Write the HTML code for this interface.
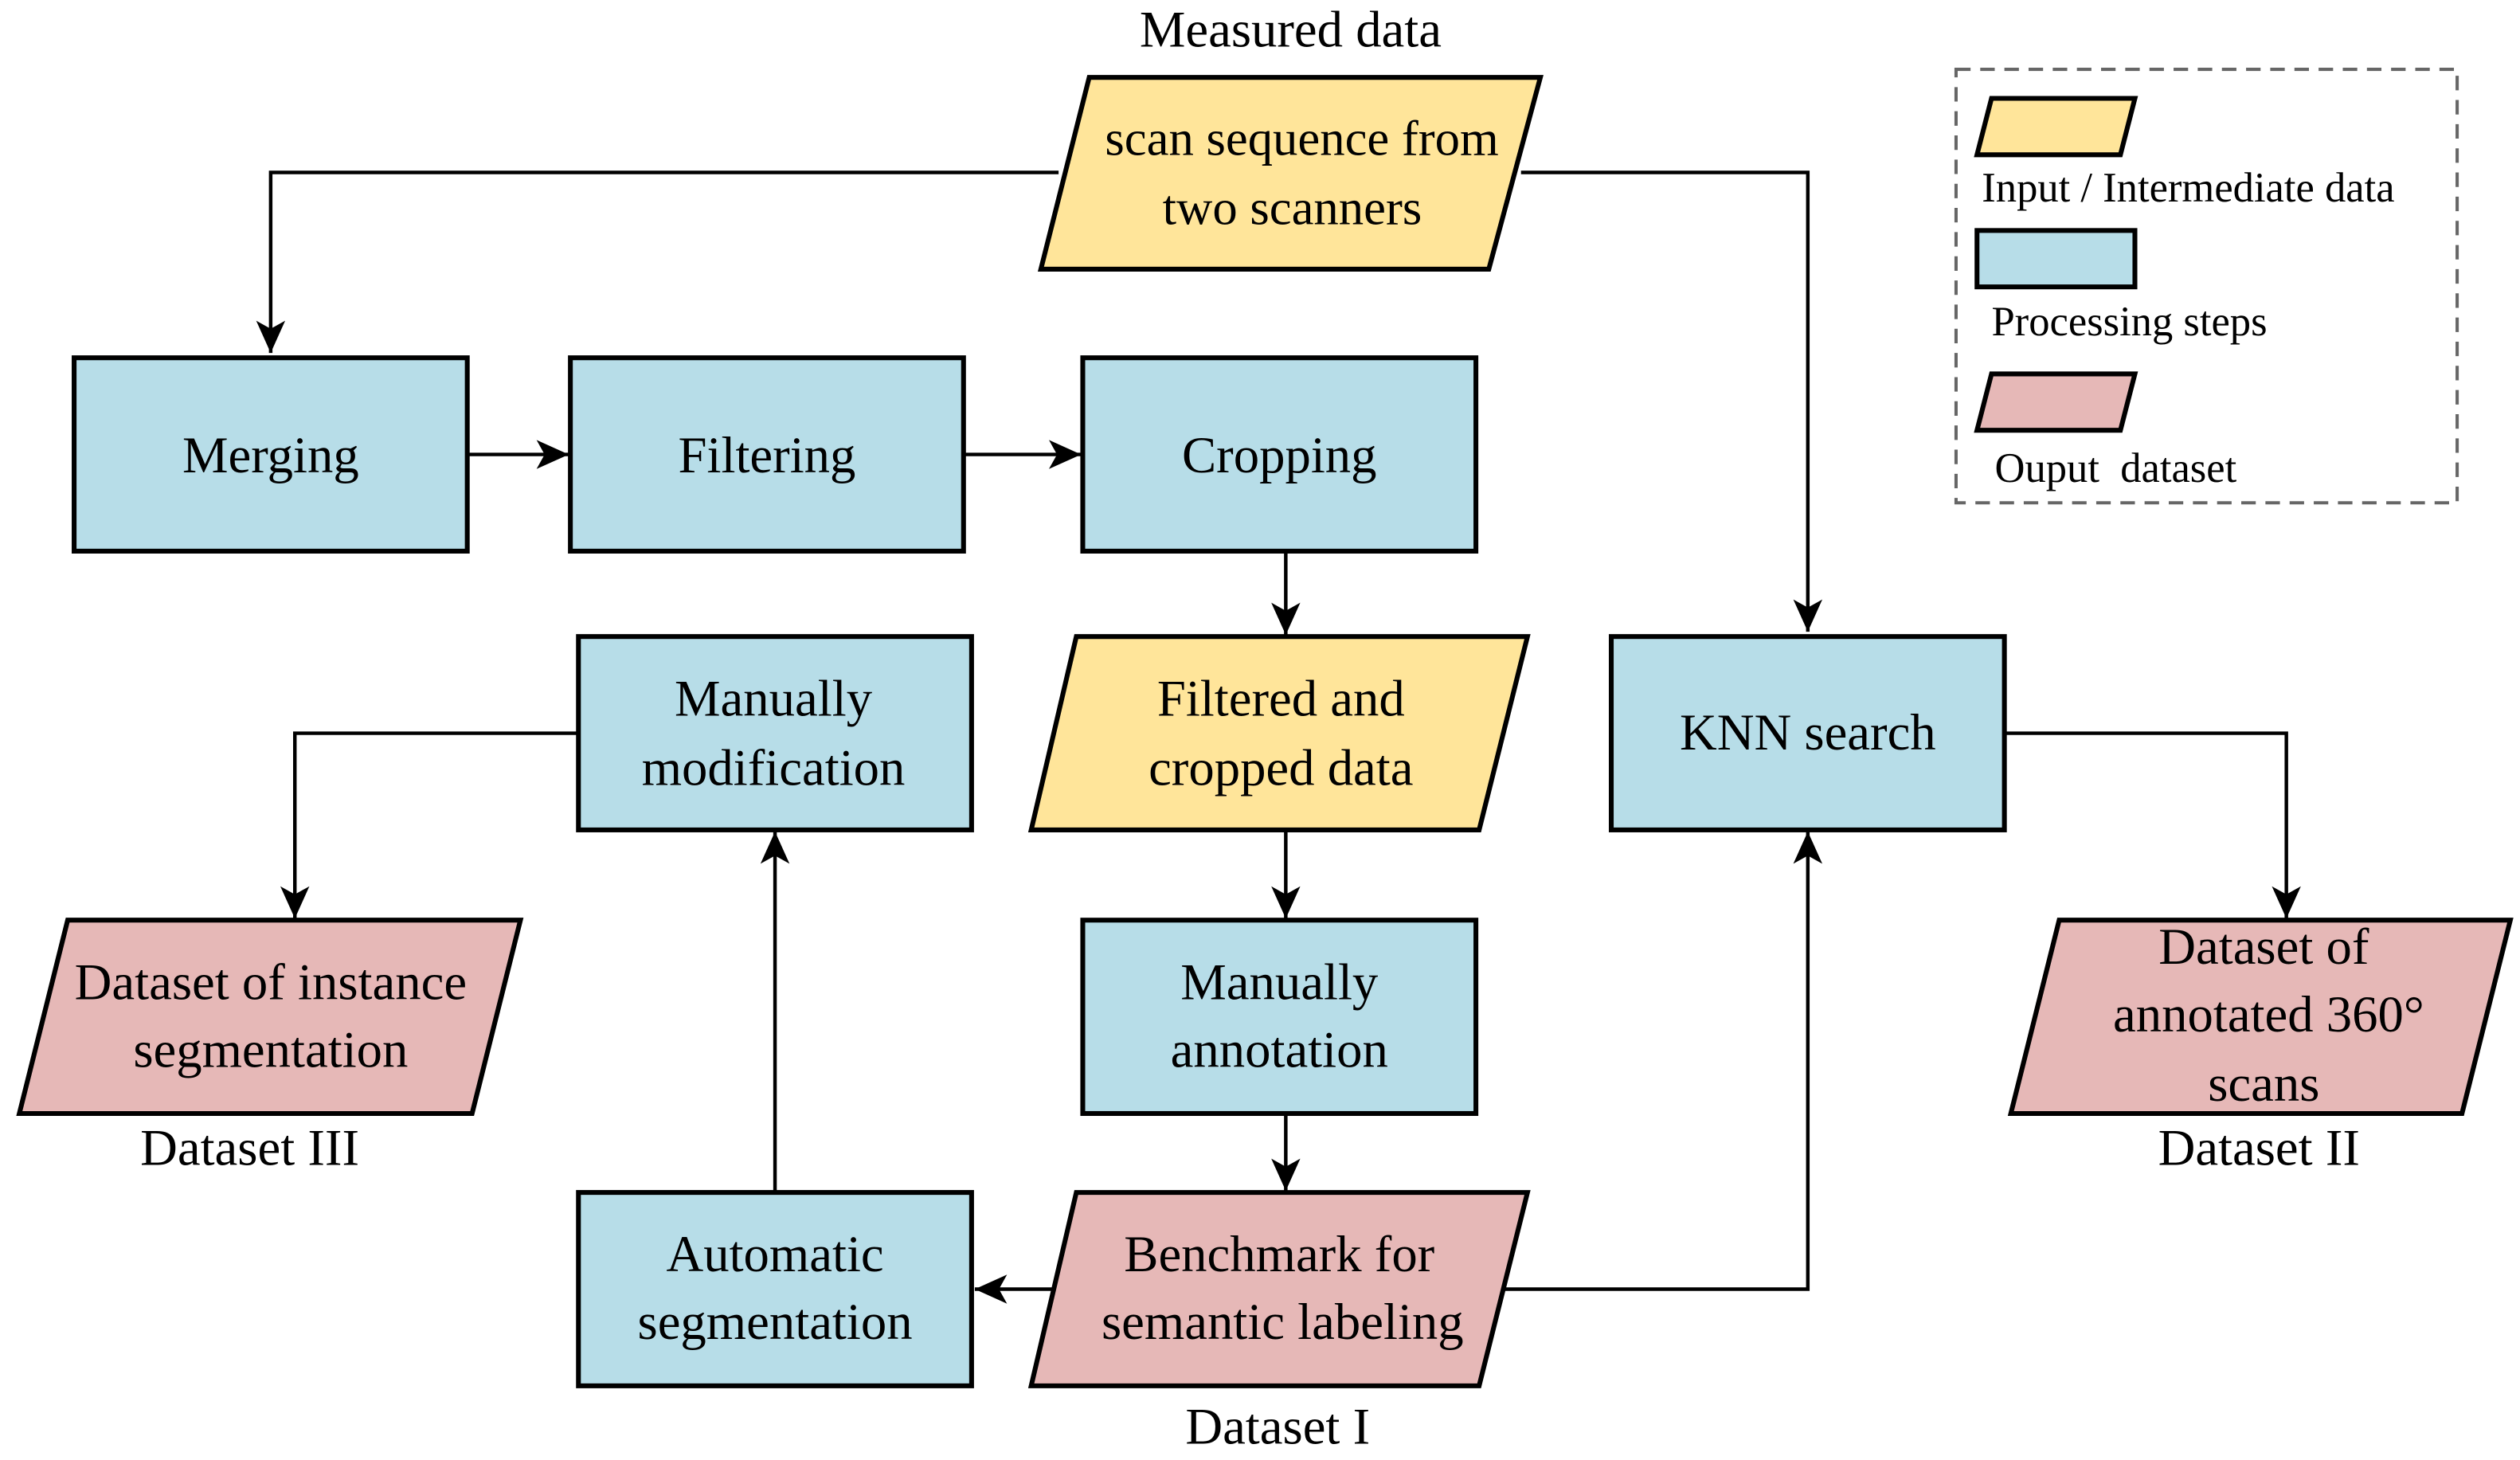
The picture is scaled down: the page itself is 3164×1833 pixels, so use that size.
<!DOCTYPE html>
<html><head><meta charset="utf-8"><style>
html,body{margin:0;padding:0;background:#fff;}
svg{display:block;}
</style></head><body>
<svg width="3164" height="1833" viewBox="0 0 1564 906" xmlns="http://www.w3.org/2000/svg">
<defs>
<marker id="ah" markerWidth="22" markerHeight="22" refX="20" refY="11" orient="auto" markerUnits="userSpaceOnUse" viewBox="0 0 22 22">
<path d="M0,2 L20,11 L0,20 L5,11 Z" fill="#000"/>
</marker>
</defs>
<g stroke="#000" stroke-width="2.2" fill="none">
<polyline points="657,107 168,107 168,219" marker-end="url(#ah)"/>
<polyline points="944,107 1122,107 1122,392" marker-end="url(#ah)"/>
<line x1="290" y1="282" x2="353" y2="282" marker-end="url(#ah)"/>
<line x1="598" y1="282" x2="671" y2="282" marker-end="url(#ah)"/>
<line x1="798" y1="342" x2="798" y2="394" marker-end="url(#ah)"/>
<line x1="798" y1="515" x2="798" y2="570" marker-end="url(#ah)"/>
<line x1="798" y1="691" x2="798" y2="739" marker-end="url(#ah)"/>
<line x1="654" y1="800" x2="605" y2="800" marker-end="url(#ah)"/>
<line x1="481" y1="740" x2="481" y2="516" marker-end="url(#ah)"/>
<polyline points="359,455 183,455 183,570" marker-end="url(#ah)"/>
<polyline points="934,800 1122,800 1122,516" marker-end="url(#ah)"/>
<polyline points="1244,455 1419,455 1419,570" marker-end="url(#ah)"/>
</g>
<g stroke="#000" stroke-width="3">
<polygon points="676,48 956,48 924,167 646,167" fill="#FFE59A"/>
<rect x="46" y="222" width="244" height="120" fill="#B7DDE8"/>
<rect x="354" y="222" width="244" height="120" fill="#B7DDE8"/>
<rect x="672" y="222" width="244" height="120" fill="#B7DDE8"/>
<polygon points="668,395 948,395 918,515 640,515" fill="#FFE59A"/>
<rect x="359" y="395" width="244" height="120" fill="#B7DDE8"/>
<rect x="1000" y="395" width="244" height="120" fill="#B7DDE8"/>
<rect x="672" y="571" width="244" height="120" fill="#B7DDE8"/>
<polygon points="42,571 323,571 293,691 12,691" fill="#E6B8B7"/>
<polygon points="1278,571 1558,571 1528,691 1248,691" fill="#E6B8B7"/>
<polygon points="668,740 948,740 918,860 640,860" fill="#E6B8B7"/>
<rect x="359" y="740" width="244" height="120" fill="#B7DDE8"/>
</g>
<rect x="1214" y="43" width="311" height="269" fill="none" stroke="#666" stroke-width="2" stroke-dasharray="9,6"/>
<g stroke="#000" stroke-width="3">
<polygon points="1236,61 1325,61 1316,96 1227,96" fill="#FFE59A"/>
<rect x="1227" y="143" width="98" height="35" fill="#B7DDE8"/>
<polygon points="1236,232 1325,232 1316,267 1227,267" fill="#E6B8B7"/>
</g>
<g font-family="Liberation Serif, Times New Roman, DejaVu Serif, serif" fill="#000" font-size="32" text-anchor="middle">
<text x="801" y="29">Measured data</text>
<text x="808" y="96" font-size="31">scan sequence from</text>
<text x="802" y="139" font-size="31">two scanners</text>
<text x="168" y="293">Merging</text>
<text x="476" y="293">Filtering</text>
<text x="794" y="293">Cropping</text>
<text x="795" y="444">Filtered and</text>
<text x="795" y="487">cropped data</text>
<text x="480" y="444">Manually</text>
<text x="480" y="487">modification</text>
<text x="1122" y="465">KNN search</text>
<text x="794" y="620">Manually</text>
<text x="794" y="662">annotation</text>
<text x="168" y="620">Dataset of instance</text>
<text x="168" y="662">segmentation</text>
<text x="155" y="723">Dataset III</text>
<text x="1405" y="598">Dataset of</text>
<text x="1408" y="640">annotated 360°</text>
<text x="1405" y="683">scans</text>
<text x="1402" y="723">Dataset II</text>
<text x="794" y="789">Benchmark for</text>
<text x="796" y="831">semantic labeling</text>
<text x="793" y="896">Dataset I</text>
<text x="481" y="789">Automatic</text>
<text x="481" y="831">segmentation</text>
</g>
<g font-family="Liberation Serif, Times New Roman, DejaVu Serif, serif" fill="#000" font-size="26">
<text x="1230" y="125">Input / Intermediate data</text>
<text x="1236" y="208">Processing steps</text>
<text x="1238" y="299" xml:space="preserve">Ouput  dataset</text>
</g>
</svg>
</body></html>
